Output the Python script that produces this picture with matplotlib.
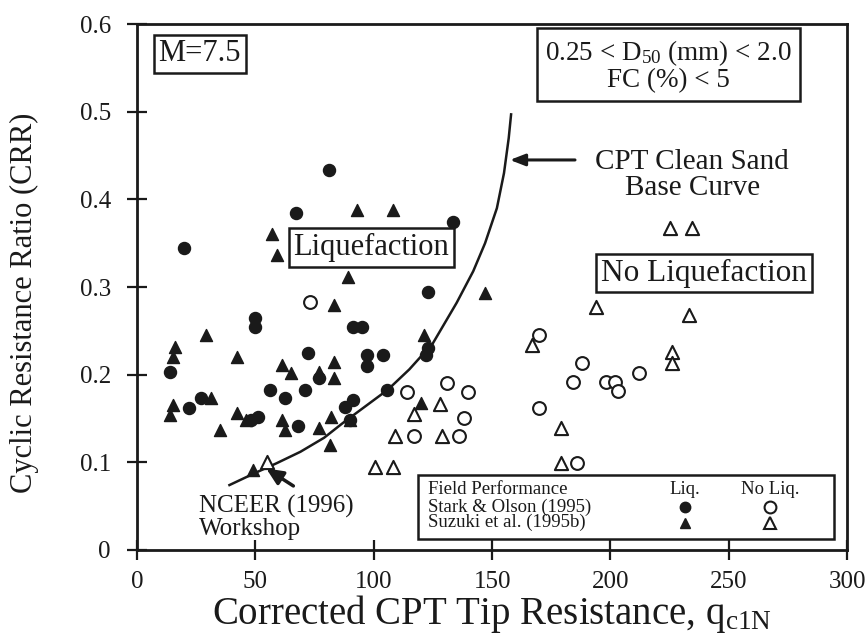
import numpy as np
import matplotlib
matplotlib.use("Agg")
import matplotlib.pyplot as plt
from matplotlib.patches import Rectangle

plt.rcParams['font.family'] = ['Liberation Serif', 'DejaVu Serif']
plt.rcParams['mathtext.fontset'] = 'custom'
plt.rcParams['mathtext.rm'] = 'Liberation Serif'
plt.rcParams['mathtext.it'] = 'Liberation Serif:italic'

# Stark & Olson (1995) - liquefaction
stark_liq_q = [81, 20, 67, 133.5, 123, 14, 22, 27, 50, 50, 56, 62.5, 71, 72, 48, 51, 68, 77,
               91, 95, 97, 97, 104, 91, 88, 90, 105.6, 123, 122]
stark_liq_crr = [0.433, 0.344, 0.385, 0.374, 0.294, 0.203, 0.162, 0.173, 0.265, 0.254, 0.182,
                 0.173, 0.183, 0.225, 0.148, 0.152, 0.141, 0.196, 0.254, 0.254, 0.222, 0.21,
                 0.222, 0.171, 0.163, 0.148, 0.183, 0.23, 0.222]
# Suzuki et al. (1995b) - liquefaction
suzuki_liq_q = [16, 15, 15, 14, 29, 31, 35, 42, 42, 46, 57, 59, 61, 65, 61, 62.5, 49, 83, 89,
                93, 108, 147, 77, 83, 83, 82, 77, 81.5, 90, 121, 120]
suzuki_liq_crr = [0.231, 0.22, 0.165, 0.154, 0.245, 0.173, 0.137, 0.22, 0.156, 0.148, 0.361,
                  0.336, 0.211, 0.202, 0.148, 0.137, 0.091, 0.279, 0.311, 0.388, 0.388, 0.293,
                  0.203, 0.214, 0.196, 0.152, 0.139, 0.12, 0.148, 0.245, 0.168]
# Stark & Olson (1995) - no liquefaction
stark_noliq_q = [73, 114, 131, 140, 138, 117, 136, 170, 188, 184, 198, 202, 203, 212, 170, 186]
stark_noliq_crr = [0.283, 0.18, 0.19, 0.18, 0.15, 0.13, 0.13, 0.245, 0.213, 0.192, 0.192,
                   0.192, 0.181, 0.202, 0.162, 0.099]
# Suzuki et al. (1995b) - no liquefaction
suzuki_noliq_q = [55, 117, 128, 109, 129, 100.5, 108, 167, 194, 225, 234.5, 233, 226, 226, 179, 179]
suzuki_noliq_crr = [0.1, 0.155, 0.167, 0.13, 0.13, 0.095, 0.095, 0.234, 0.277, 0.367, 0.367,
                    0.268, 0.226, 0.213, 0.139, 0.099]

# CPT clean sand base curve
curve_q = [39, 50, 59, 69, 79, 87, 96, 106, 115, 125, 135, 142, 147, 152, 155, 157, 158]
curve_crr = [0.074, 0.088, 0.099, 0.112, 0.128, 0.145, 0.163, 0.183, 0.206, 0.236, 0.282,
             0.318, 0.35, 0.39, 0.43, 0.47, 0.497]

x_ticks = [0, 50, 100, 150, 200, 250, 300]
y_ticks = [0, 0.1, 0.2, 0.3, 0.4, 0.5, 0.6]
y_ticklabels = ['0', '0.1', '0.2', '0.3', '0.4', '0.5', '0.6']

legend_rows = ['Field Performance', 'Stark & Olson (1995)', 'Suzuki et al. (1995b)']

fig = plt.figure(figsize=(8.68, 6.35), dpi=100)
ax = fig.add_axes([0.158, 0.134, 0.818, 0.828])

ink = '#1a1a1a'
ax.plot(curve_q, curve_crr, color=ink, lw=1.8)

ax.scatter(stark_liq_q, stark_liq_crr, marker='o', s=75, color=ink, zorder=3)
ax.scatter(suzuki_liq_q, suzuki_liq_crr, marker='^', s=75, color=ink, zorder=3)
ax.scatter(stark_noliq_q, stark_noliq_crr, marker='o', s=85, facecolor='white',
           edgecolor=ink, linewidth=1.5, zorder=3)
ax.scatter(suzuki_noliq_q, suzuki_noliq_crr, marker='^', s=90, facecolor='white',
           edgecolor=ink, linewidth=1.5, zorder=3)

ax.set_xlim(0, 300)
ax.set_ylim(0, 0.6)
ax.set_xticks(x_ticks)
ax.set_yticks(y_ticks)
ax.set_yticklabels(y_ticklabels)
ax.tick_params(direction='inout', length=14, width=1.6, labelsize=18, colors=ink, pad=8)
ax.tick_params(axis='y', pad=12)
for sp in ax.spines.values():
    sp.set_linewidth(2)
    sp.set_color(ink)

ax.set_xlabel(r'Corrected CPT Tip Resistance, q$_{\mathrm{c1N}}$', fontsize=28, color=ink)
ax.xaxis.set_label_coords(0.5, -0.082, transform=ax.transAxes)
ax.xaxis.label.set_va('top')
ax.set_ylabel('Cyclic Resistance Ratio (CRR)', fontsize=22, color=ink)
ax.yaxis.set_label_coords(-0.138, 0.47)

box = dict(boxstyle='square,pad=0.15', facecolor='white', edgecolor=ink, linewidth=1.8)
ax.text(26.5, 0.566, 'M=7.5', fontsize=22, ha='center', va='center', color=ink, bbox=box)
ax.text(224.5, 0.553, '0.25 < D$_{50}$ (mm) < 2.0\nFC (%) < 5', fontsize=19.5, ha='center',
        va='center', color=ink, linespacing=1.0,
        bbox=dict(boxstyle='square,pad=0.3', facecolor='white', edgecolor=ink, linewidth=1.8))
ax.text(99, 0.345, 'Liquefaction', fontsize=22, ha='center', va='center', color=ink, bbox=box)
ax.text(239.5, 0.316, 'No Liquefaction', fontsize=22.5, ha='center', va='center', color=ink, bbox=box)

ax.text(234.5, 0.4275, 'CPT Clean Sand\nBase Curve', fontsize=21, ha='center', va='center',
        color=ink, linespacing=1.0)
ax.annotate('', xy=(157.5, 0.445), xytext=(185, 0.445),
            arrowprops=dict(arrowstyle='-|>,head_length=0.9,head_width=0.35', color=ink,
                            lw=2.2, shrinkA=0, shrinkB=0))
ax.text(26, 0.037, 'NCEER (1996)\nWorkshop', fontsize=18, ha='left', va='center', color=ink,
        linespacing=0.95)
ax.annotate('', xy=(54.5, 0.093), xytext=(66, 0.073),
            arrowprops=dict(arrowstyle='-|>,head_length=1.0,head_width=0.45', color=ink,
                            lw=2.5, shrinkA=0, shrinkB=0))

# legend box
ax.add_patch(Rectangle((118.5, 0.012), 176, 0.074, facecolor='white', edgecolor=ink,
                       linewidth=1.8, zorder=4))
row_y = [0.0685, 0.049, 0.031]
for lbl, yy in zip(legend_rows, row_y):
    ax.text(123, yy, lbl, fontsize=13.5, ha='left', va='center', color=ink, zorder=5)
ax.text(231.5, row_y[0], 'Liq.', fontsize=13.5, ha='center', va='center', color=ink, zorder=5)
ax.text(267.5, row_y[0], 'No Liq.', fontsize=13.5, ha='center', va='center', color=ink, zorder=5)
ax.plot([231.5], [row_y[1]], marker='o', ms=7.5, color=ink, zorder=5)
ax.plot([231.5], [row_y[2]], marker='^', ms=7.5, color=ink, zorder=5)
ax.plot([267.5], [row_y[1]], marker='o', ms=8.5, mfc='white', mec=ink, mew=1.5, zorder=5)
ax.plot([267.5], [row_y[2]], marker='^', ms=8.5, mfc='white', mec=ink, mew=1.5, zorder=5)

fig.savefig('out.png', dpi=100)
